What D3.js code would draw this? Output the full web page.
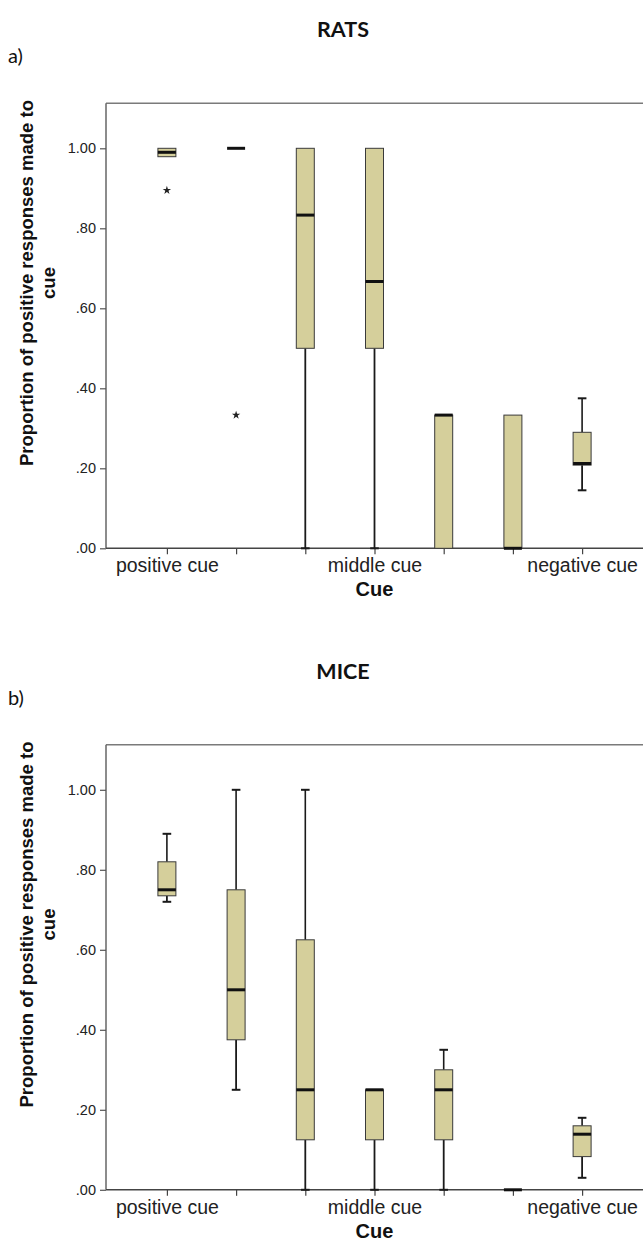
<!DOCTYPE html>
<html><head><meta charset="utf-8">
<script src="https://cdn.jsdelivr.net/npm/d3@7"></script>
<style>
body{margin:0;background:#fff}svg{display:block}
.ar{font-family:"Liberation Sans", Arial, Helvetica, sans-serif}
.ca{font-family:Lato, "Open Sans", sans-serif}
</style>
</head><body><svg id="c" width="643" height="1241"></svg>
<script>
// ---- data ----
const categories = ["positive cue", "cue 2", "cue 3", "middle cue", "cue 5", "cue 6", "negative cue"];
const tickLabels = ["positive cue", "", "", "middle cue", "", "", "negative cue"];
const yTicks = [0, 0.2, 0.4, 0.6, 0.8, 1.0];
const yMax = 1.1125;

const ratsMin     = [0.979, 1.0, 0.0,   0.0,   0.0,   0.0,   0.145];
const ratsQ1      = [0.979, 1.0, 0.5,   0.5,   0.0,   0.0,   0.208];
const ratsMedian  = [0.99,  1.0, 0.833, 0.667, 0.333, 0.0,   0.212];
const ratsQ3      = [1.0,   1.0, 1.0,   1.0,   0.333, 0.333, 0.29];
const ratsMax     = [1.0,   1.0, 1.0,   1.0,   0.333, 0.333, 0.375];
const ratsOutliers = [[0.895], [0.333], [], [], [], [], []];

const miceMin     = [0.72,  0.25,  0.0,   0.0,   0.0,   0.0, 0.03];
const miceQ1      = [0.735, 0.375, 0.125, 0.125, 0.125, 0.0, 0.083];
const miceMedian  = [0.75,  0.5,   0.25,  0.25,  0.25,  0.0, 0.139];
const miceQ3      = [0.82,  0.75,  0.625, 0.25,  0.30,  0.0, 0.16];
const miceMax     = [0.89,  1.0,   1.0,   0.25,  0.35,  0.0, 0.18];
const miceOutliers = [[], [], [], [], [], [], []];

const panels = [
  {title: "RATS", tag: "a)", min: ratsMin, q1: ratsQ1, med: ratsMedian, q3: ratsQ3, max: ratsMax, out: ratsOutliers},
  {title: "MICE", tag: "b)", min: miceMin, q1: miceQ1, med: miceMedian, q3: miceQ3, max: miceMax, out: miceOutliers}
];

// ---- drawing ----
const svg = d3.select("#c");
const left = 106, right = 645, zeroY = 548.3, oneY = 148.3, panelShift = 641.5;
const FILL = "#d5cf9b";

const x = d3.scalePoint().domain(categories).range([left, 643]).padding(0.88);
const boxW = x.step() * 0.26, capW = boxW * 0.48;

panels.forEach((p, pi) => {
  const g = svg.append("g").attr("transform", `translate(0,${pi * panelShift})`);
  const y = d3.scaleLinear().domain([0, 1]).range([zeroY, oneY]);
  const topY = y(yMax);

  g.append("text").attr("class", "ca").attr("x", 343).attr("y", 37).attr("text-anchor", "middle")
    .attr("font-weight", 700).attr("font-size", 21.5).attr("fill", "#111").text(p.title);
  g.append("text").attr("class", "ca").attr("x", 8).attr("y", 63)
    .attr("font-size", 20).attr("fill", "#111").text(p.tag);

  // frame
  g.append("line").attr("x1", left).attr("x2", right).attr("y1", topY).attr("y2", topY)
    .attr("stroke", "#7a7a7a").attr("stroke-width", 1.5);

  // y axis
  const ya = d3.axisLeft(y).tickValues(yTicks).tickSize(6).tickPadding(4)
    .tickFormat(d => d3.format(".2f")(d).replace(/^0/, ""));
  const yg = g.append("g").attr("transform", `translate(${left},0)`).call(ya);
  yg.attr("font-family", null);
  yg.select(".domain").attr("d", `M0,${topY}V${zeroY}`).attr("stroke", "#666").attr("stroke-width", 1.5);
  yg.selectAll(".tick line").attr("stroke", "#555").attr("stroke-width", 1.2);
  yg.selectAll(".tick text").attr("class", "ar").attr("font-size", 14.5).attr("fill", "#222");

  // x axis
  const xa = d3.axisBottom(x).tickSize(6).tickPadding(8).tickFormat((d, i) => tickLabels[i]);
  const xg = g.append("g").attr("transform", `translate(0,${zeroY})`).call(xa);
  xg.attr("font-family", null);
  xg.select(".domain").attr("d", `M${left},0H${right}`).attr("stroke", "#444").attr("stroke-width", 1.5);
  xg.selectAll(".tick line").attr("stroke", "#444").attr("stroke-width", 1.2);
  xg.selectAll(".tick text").attr("class", "ar").attr("font-size", 19.5).attr("fill", "#222")
    .attr("y", 24).attr("dy", null);

  g.append("text").attr("class", "ar").attr("x", (left + 643) / 2).attr("y", zeroY + 48)
    .attr("text-anchor", "middle").attr("font-weight", 700)
    .attr("font-size", 20).attr("fill", "#111").text("Cue");

  // y title
  const yt = g.append("text").attr("class", "ar").attr("transform", `translate(0,283) rotate(-90)`)
    .attr("text-anchor", "middle").attr("font-weight", 700).attr("font-size", 18.5).attr("fill", "#111");
  yt.append("tspan").attr("x", 0).attr("y", 33).text("Proportion of positive responses made to");
  yt.append("tspan").attr("x", 0).attr("y", 55).text("cue");

  // boxes
  categories.forEach((c, i) => {
    const cx = x(c);
    const bg = g.append("g");
    if (p.max[i] > p.q3[i]) {
      bg.append("line").attr("x1", cx).attr("x2", cx).attr("y1", y(p.q3[i])).attr("y2", y(p.max[i]))
        .attr("stroke", "#1a1a1a").attr("stroke-width", 1.6);
      bg.append("line").attr("x1", cx - capW / 2).attr("x2", cx + capW / 2).attr("y1", y(p.max[i])).attr("y2", y(p.max[i]))
        .attr("stroke", "#1a1a1a").attr("stroke-width", 2);
    }
    if (p.min[i] < p.q1[i]) {
      bg.append("line").attr("x1", cx).attr("x2", cx).attr("y1", y(p.q1[i])).attr("y2", y(p.min[i]))
        .attr("stroke", "#1a1a1a").attr("stroke-width", 1.8);
      bg.append("line").attr("x1", cx - capW / 2).attr("x2", cx + capW / 2).attr("y1", y(p.min[i])).attr("y2", y(p.min[i]))
        .attr("stroke", "#1a1a1a").attr("stroke-width", 2);
    }
    if (p.q3[i] > p.q1[i]) {
      bg.append("rect").attr("x", cx - boxW / 2).attr("width", boxW)
        .attr("y", y(p.q3[i])).attr("height", y(p.q1[i]) - y(p.q3[i]))
        .attr("fill", FILL).attr("stroke", "#3a3a3a").attr("stroke-width", 1);
    }
    bg.append("line").attr("x1", cx - boxW / 2).attr("x2", cx + boxW / 2)
      .attr("y1", y(p.med[i])).attr("y2", y(p.med[i]))
      .attr("stroke", "#111").attr("stroke-width", 3);
    p.out[i].forEach(v => {
      bg.append("path").attr("d", d3.symbol(d3.symbolStar, 22)())
        .attr("transform", `translate(${cx},${y(v)})`).attr("fill", "#222");
    });
  });
});
</script>
</body></html>
